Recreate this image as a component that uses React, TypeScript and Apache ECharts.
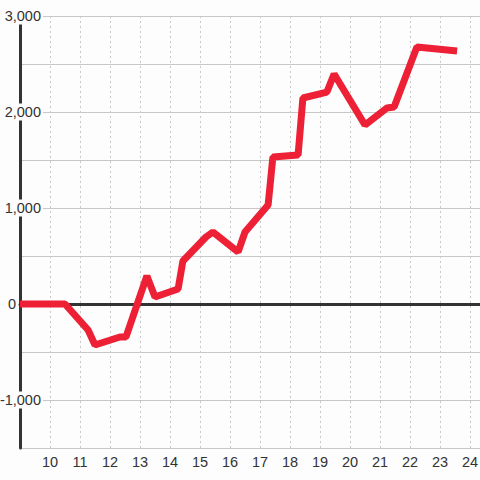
import React, { useEffect, useRef } from "react";
import * as echarts from "echarts";

const xValues = [9, 10.5, 11.27, 11.5, 12.33, 12.53, 13.23, 13.5, 14.27, 14.43, 15.2, 15.43, 16.27, 16.5, 17.27, 17.43, 18.27, 18.43, 19.23, 19.47, 20.5, 21.23, 21.47, 22.23, 23.57];
const yValues = [0, 0, -271, -427, -344, -344, 292, 73, 156, 448, 698, 750, 542, 750, 1031, 1531, 1552, 2146, 2208, 2396, 1865, 2042, 2052, 2677, 2635];
const yTickStep = 500;
const yLabelStep = 1000;

const BG = "#fcfdfc";
const FONT = "Liberation Sans, Arial, sans-serif";
const FS = 14.5;

export default function App() {
  const ref = useRef<HTMLDivElement>(null);
  useEffect(() => {
    if (!ref.current) return;
    const chart = echarts.init(ref.current, null, { renderer: "svg" });
    const xMin = 9;
    const xMax = 24 + 1 / 3;
    chart.setOption({
      animation: false,
      backgroundColor: BG,
      grid: { left: 30, right: 10, top: 16, bottom: 32, containLabel: false, outerBoundsMode: "none" },
      xAxis: [
        {
          type: "value",
          min: xMin,
          max: xMax,
          interval: 1,
          axisLine: { show: false, onZero: false },
          axisTick: { show: false },
          axisLabel: {
            showMaxLabel: false,
            hideOverlap: false,
            margin: 6,
            color: "#333",
            fontSize: FS,
            fontFamily: FONT,
            formatter: (v: number) => (Number.isInteger(v) && v > xMin ? String(v) : ""),
          },
          splitLine: { show: true, lineStyle: { color: "#c8c8c8", type: [2, 3], width: 1 } },
        },
        {
          type: "value",
          min: xMin,
          max: xMax,
          interval: 1,
          position: "bottom",
          axisLine: { show: true, onZero: true, lineStyle: { color: "#333", width: 3 } },
          axisTick: { show: false },
          axisLabel: { show: false },
          splitLine: { show: false },
        },
      ],
      yAxis: {
        type: "value",
        min: -1500,
        max: 3000,
        interval: yTickStep,
        axisLine: { show: true, lineStyle: { color: "#333", width: 3 } },
        axisTick: { show: false },
        splitLine: { show: true, lineStyle: { color: "#c8c8c8", width: 1 } },
        axisLabel: {
          margin: -23,
          align: "right",
          hideOverlap: false,
          formatter: (v: number) => {
            if (v % yLabelStep !== 0) return "";
            if (v === 0) return "{z|0}";
            return "{a|" + v.toLocaleString("en-US") + "}";
          },
          rich: {
            a: {
              color: "#333",
              fontSize: FS,
              fontFamily: FONT,
              backgroundColor: BG,
              padding: [1, 2, 1, 1],
            },
            z: {
              color: "#333",
              fontSize: FS,
              fontFamily: FONT,
              padding: [0, 27, 0, 0],
            },
          },
        },
      },
      series: [
        {
          type: "line",
          z: 3,
          xAxisIndex: 0,
          data: xValues.map((x, i) => [x, yValues[i]]),
          showSymbol: false,
          symbol: "none",
          lineStyle: { color: "#ed2036", width: 7 },
        },
      ],
    });
    return () => chart.dispose();
  }, []);
  return (
    <div
      ref={ref}
      style={{ position: "fixed", left: -10, top: 0, width: 500, height: 480 }}
    />
  );
}
